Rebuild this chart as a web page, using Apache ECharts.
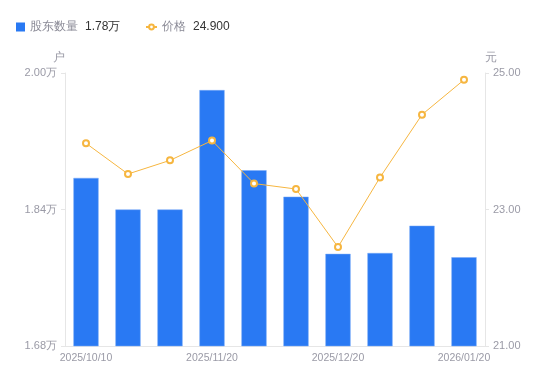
<!DOCTYPE html>
<html><head><meta charset="utf-8">
<script src="https://cdn.jsdelivr.net/npm/echarts@6/dist/echarts.min.js"></script>
<style>html,body{margin:0;padding:0;background:#fff}#c{width:550px;height:381px}</style>
</head><body><div id="c"></div>
<script>
const categories = ['2025/10/10','2025/10/31','2025/11/10','2025/11/20','2025/11/28','2025/12/10','2025/12/20','2025/12/31','2026/01/09','2026/01/20'];
const holders = [1.877, 1.840, 1.840, 1.980, 1.886, 1.855, 1.788, 1.789, 1.821, 1.784]; // 万户
const prices = [23.97, 23.52, 23.72, 24.01, 23.38, 23.30, 22.45, 23.47, 24.39, 24.90];
const leftTicks = [1.68, 1.84, 2.00];
const rightTicks = [21, 23, 25];
const legendValues = {'股东数量': '1.78万', '价格': '24.900'};

const labelColor = '#9a9aa6';
const lineCol = '#e6e6e6';
const legendText = {
  rich: {
    a: {color: '#8a8a96', fontSize: 12},
    b: {color: '#333', fontSize: 12, padding: [0, 0, 0, 7]}
  }
};
const chart = echarts.init(document.getElementById('c'));
chart.setOption({
  animation: false,
  legend: [{
    left: 11, top: 16, itemWidth: 9, itemHeight: 9, itemGap: 6,
    data: [{name: '股东数量', icon: 'rect', itemStyle: {borderWidth: 0}}],
    formatter: n => `{a|${n}}{b|${legendValues[n]}}`,
    textStyle: legendText
  }, {
    left: 140, top: 16, itemWidth: 11, itemHeight: 6, itemGap: 6,
    data: [{name: '价格'}],
    formatter: n => `{a|${n}}{b|${legendValues[n]}}`,
    textStyle: legendText
  }],
  grid: {left: 65, right: 65, top: 73, bottom: 35},
  xAxis: {
    type: 'category', data: categories,
    axisLine: {lineStyle: {color: lineCol}},
    axisTick: {show: false},
    axisLabel: {interval: 2, color: labelColor, fontSize: 10.5, margin: 7}
  },
  yAxis: [{
    type: 'value', min: 1.68, max: 2.00, position: 'left',
    name: '户', nameGap: 9,
    nameTextStyle: {color: labelColor, fontSize: 12, align: 'right'},
    axisLine: {show: true, lineStyle: {color: lineCol}},
    axisTick: {show: true, length: 4, customValues: leftTicks, lineStyle: {color: lineCol}},
    splitLine: {show: false},
    axisLabel: {customValues: leftTicks, color: labelColor, fontSize: 11, margin: 8,
      formatter: v => v.toFixed(2) + '万'}
  }, {
    type: 'value', min: 21, max: 25, position: 'right',
    name: '元', nameGap: 9,
    nameTextStyle: {color: labelColor, fontSize: 12, align: 'left'},
    axisLine: {show: true, lineStyle: {color: lineCol}},
    axisTick: {show: true, length: 4, customValues: rightTicks, lineStyle: {color: lineCol}},
    splitLine: {show: false},
    axisLabel: {customValues: rightTicks, color: labelColor, fontSize: 11, margin: 8,
      formatter: v => v.toFixed(2)}
  }],
  series: [{
    name: '股东数量', type: 'bar', data: holders, barWidth: '60%',
    itemStyle: {color: '#2979f3', borderColor: '#7aaaf6', borderWidth: 0.5}
  }, {
    name: '价格', type: 'line', yAxisIndex: 1, data: prices,
    symbol: 'emptyCircle', symbolSize: 6,
    lineStyle: {color: '#f6b640', width: 1},
    itemStyle: {color: '#f6b640', borderWidth: 1.5}
  }]
});
</script></body></html>
